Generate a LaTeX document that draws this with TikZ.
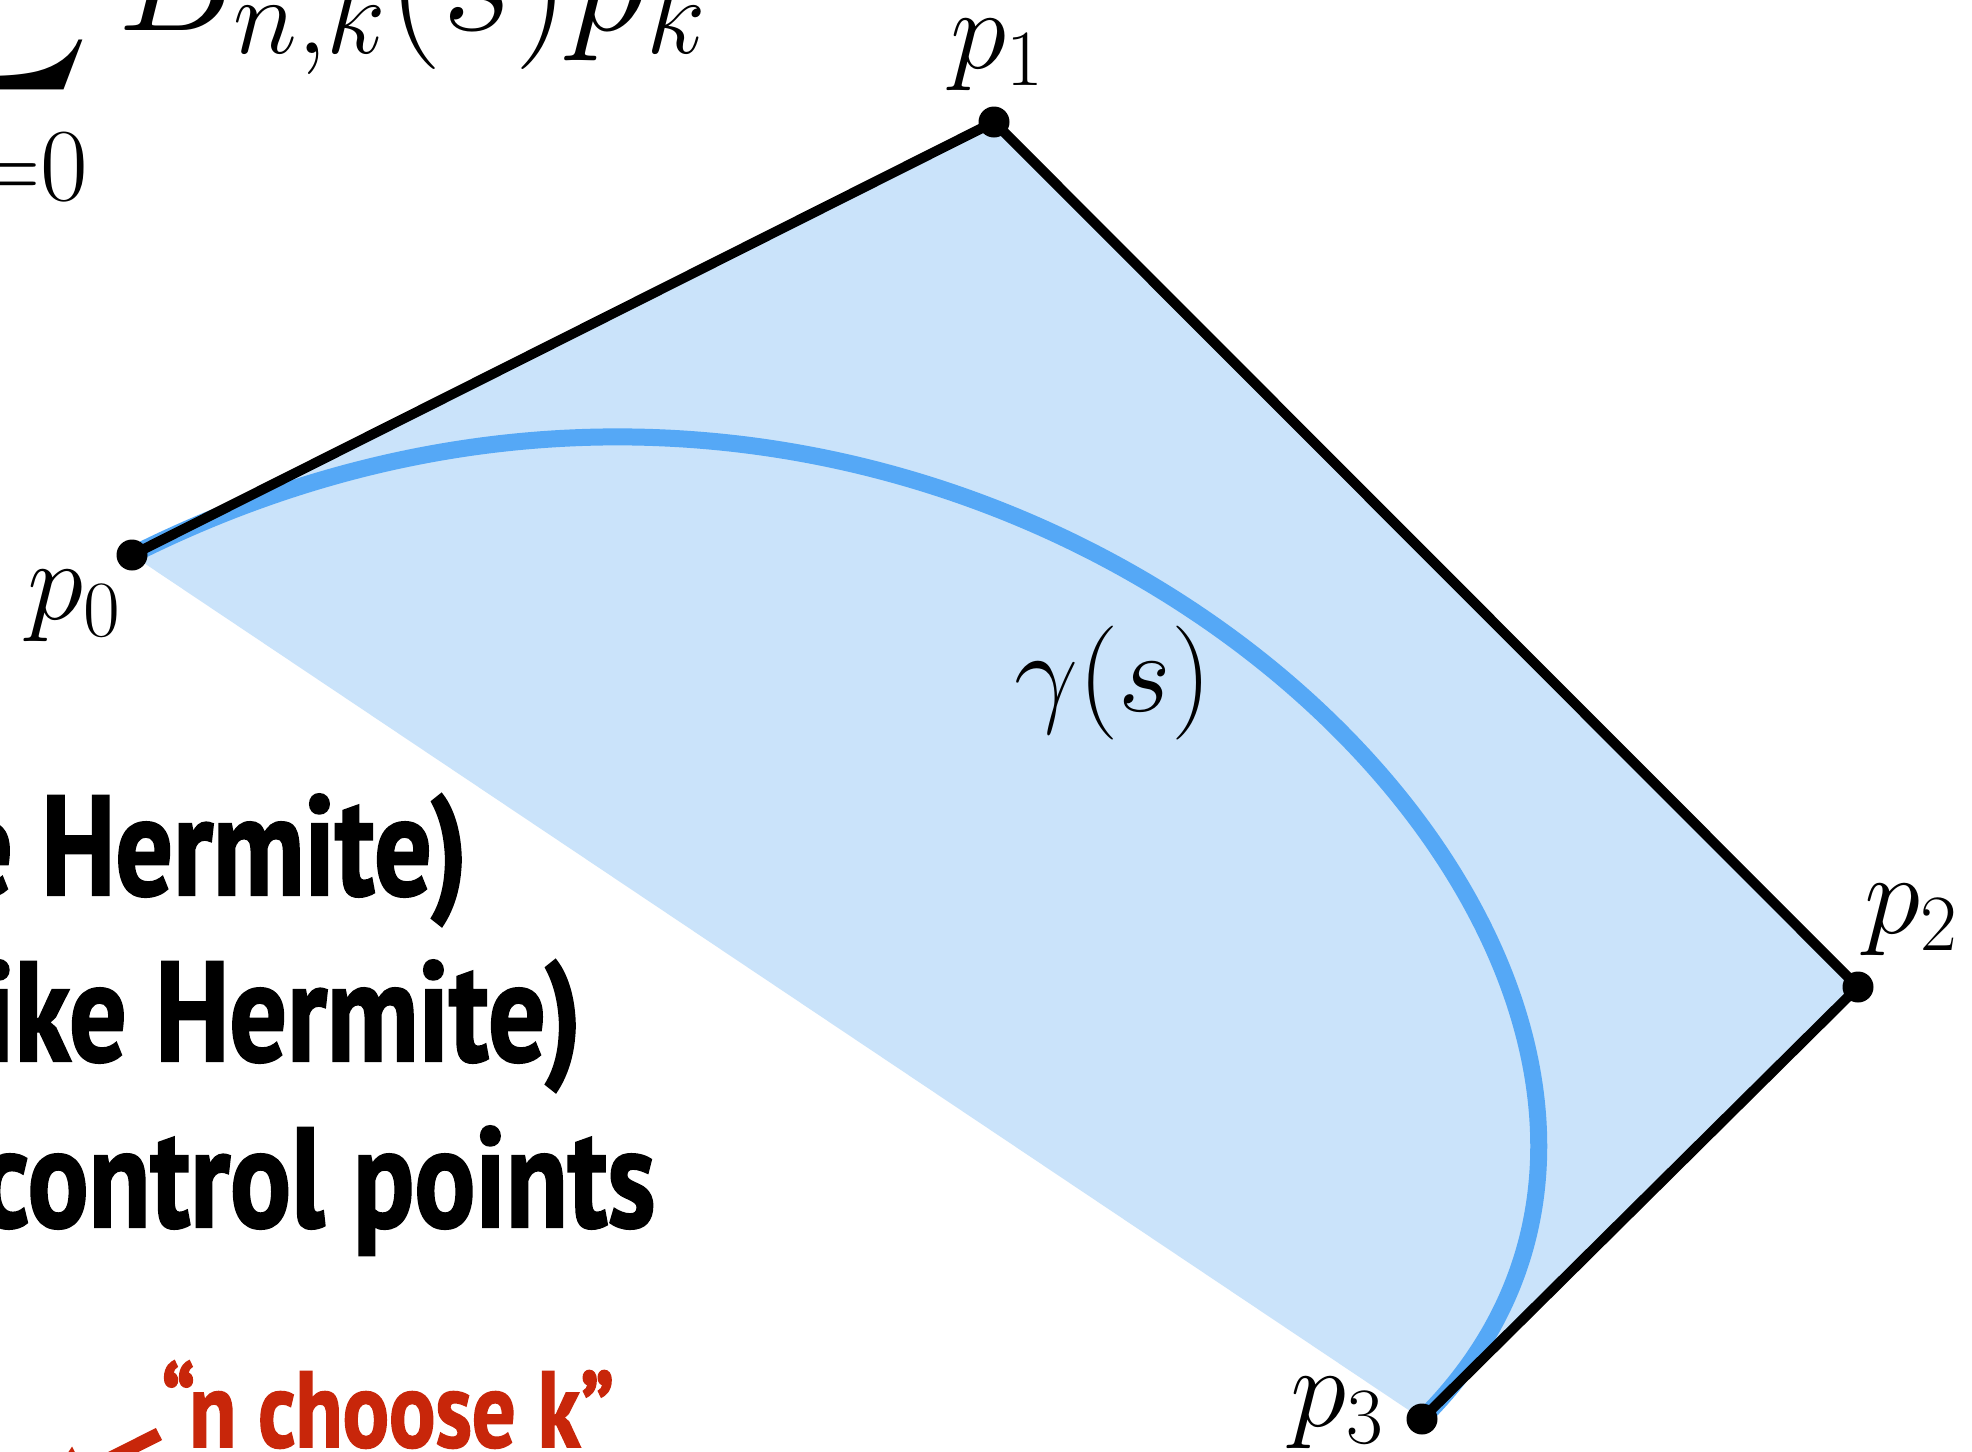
\RequirePackage{fix-cm}
\documentclass[tikz,border=0pt]{standalone}
\usepackage{amsmath}
\DeclareFontShape{OMX}{cmex}{m}{n}{<->cmex10}{}
\usepackage{fontspec}
\usetikzlibrary{arrows.meta}
\newfontfamily\condfont[FakeStretch=0.8,FakeBold=1.5]{PT Sans}
\definecolor{hullblue}{HTML}{CAE3FA}
\definecolor{curveblue}{HTML}{55A8F6}
\definecolor{nckred}{HTML}{C8260A}
\begin{document}
\begin{tikzpicture}[x=0.5pt,y=-0.5pt,
  ctrl/.style={line width=5pt,black,line cap=round,line join=round},
  dot/.style={circle,fill=black,inner sep=0pt,minimum size=15.5pt},
  lab/.style={inner sep=0pt,font=\fontsize{57}{64}\selectfont},
  bigmath/.style={inner sep=0pt,font=\fontsize{78}{84}\selectfont},
  limmath/.style={inner sep=0pt,font=\fontsize{74}{80}\selectfont},
  boldline/.style={inner sep=0pt,font=\condfont\bfseries\fontsize{71}{80}\selectfont},
]
\useasboundingbox (0,0) rectangle (1972,1452);
\clip (0,0) rectangle (1972,1452);
\fill[white] (0,0) rectangle (1972,1452);
\coordinate (c0) at (132,555);
\coordinate (c1) at (994,122);
\coordinate (c2) at (1858,987);
\coordinate (c3) at (1422,1419);
\fill[hullblue] (c0) -- (c1) -- (c2) -- (c3) -- cycle;
\draw[curveblue,line width=8.5pt] (c0) .. controls (c1) and (c2) .. (c3);
\draw[ctrl] (c0) -- (c1) -- (c2) -- (c3);
\node[dot] (p0) at (c0) {};
\node[dot] (p1) at (c1) {};
\node[dot] (p2) at (c2) {};
\node[dot] (p3) at (c3) {};
\node[lab] (l0) at (74,606) {$p_0$};
\node[lab] (l1) at (997,55) {$p_1$};
\node[lab] (l2) at (1911,920) {$p_2$};
\node[lab] (l3) at (1337,1413) {$p_3$};
\node[lab] (gam) at (1113,683) {$\gamma(s)$};
% formula
\node[bigmath,anchor=base east] (sum) at (92,20) {$\displaystyle\sum$};
\node[limmath,anchor=base east] (lim) at (89,200) {$\scriptstyle k=0$};
\node[bigmath,anchor=base west] (bnk) at (117,30) {$B_{n,k}(s)p_k$};
% bold text
\node[boldline,anchor=base east] (t1) at (468,895) {e Hermite)};
\node[boldline,anchor=base east] (t2) at (582,1061) {ike Hermite)};
\node[boldline,anchor=base east] (t3) at (656,1227) {control points};
% red
\node[inner sep=0pt,anchor=base west,text=nckred,font=\condfont\bfseries\fontsize{54}{62}\selectfont] (nck) at (161,1447) {“n choose k”};
\coordinate (arend) at (40,1494);
\draw[nckred,line width=6.8pt,-{Triangle[width=26pt,length=25pt]}] ([shift={(-2,-13)}]nck.base west) -- (arend);
\end{tikzpicture}
\end{document}
